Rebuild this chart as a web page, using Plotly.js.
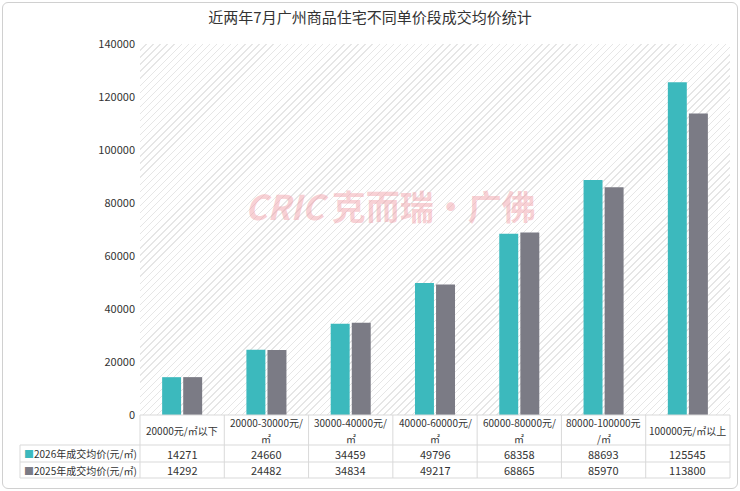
<!DOCTYPE html>
<html><head><meta charset="utf-8">
<script src="https://cdn.plot.ly/plotly-3.0.1.min.js"></script>
<style>
body{margin:0;background:#fff;}
#wrap{position:relative;width:740px;height:491px;}
#frame{position:absolute;left:2px;top:2px;width:734px;height:485px;border:1px solid #d0d0d0;border-radius:6px;}
#hatch{position:absolute;left:140px;top:44px;width:590px;height:371px;
background:repeating-linear-gradient(135deg,#fff 0 4px,#e6e6e6 4px 5px);}
#chart{position:absolute;left:0;top:0;}
</style></head><body>
<div id="wrap"><div id="frame"></div><div id="hatch"></div><div id="chart"></div></div>
<script>
const categories=["20000元/㎡以下","20000-30000元/<br>㎡","30000-40000元/<br>㎡","40000-60000元/<br>㎡","60000-80000元/<br>㎡","80000-100000元<br>/㎡","100000元/㎡以上"];
const series2026=[14271,24660,34459,49796,68358,88693,125545];
const series2025=[14292,24482,34834,49217,68865,85970,113800];
const seriesNames=["2026年成交均价(元/㎡)","2025年成交均价(元/㎡)"];
const colors=["#3cb9bd","#7b7b85"];
const L=140,R=730,T=44,B=415,W=R-L,H=B-T;
const px=x=>(x-L)/W, py=y=>(B-y)/H;
const cw=W/categories.length;
const font={family:"Noto Sans CJK SC",size:11,color:"#333"};
const hfont={family:"Noto Sans CJK SC",size:10,color:"#333"};
const shapes=[],ann=[];
const line={color:"#d9d9d9",width:1};
function hl(y,x0,x1){shapes.push({type:"line",xref:"paper",yref:"paper",x0:px(x0),x1:px(x1),y0:py(y),y1:py(y),line});}
function vl(x,y0,y1){shapes.push({type:"line",xref:"paper",yref:"paper",x0:px(x),x1:px(x),y0:py(y0),y1:py(y1),line});}
hl(415,L,R);hl(445,20,R);hl(462,20,R);hl(478,20,R);
vl(20,445,478);
for(let k=0;k<=categories.length;k++)vl(L+cw*k,415,478);
categories.forEach((c,i)=>{
  const cx=L+cw*(i+0.5);
  const parts=c.split("<br>");
  if(parts.length===1){
    ann.push({xref:"paper",yref:"paper",x:px(cx),y:py(430),text:parts[0],showarrow:false,font:hfont,xanchor:"center",yanchor:"middle"});
  }else{
    ann.push({xref:"paper",yref:"paper",x:px(cx),y:py(422),text:parts[0],showarrow:false,font:hfont,xanchor:"center",yanchor:"middle"});
    ann.push({xref:"paper",yref:"paper",x:px(cx),y:py(438.5),text:parts[1],showarrow:false,font:hfont,xanchor:"center",yanchor:"middle"});
  }
  ann.push({xref:"paper",yref:"paper",x:px(cx),y:py(453.5),text:String(series2026[i]),showarrow:false,font,xanchor:"center",yanchor:"middle"});
  ann.push({xref:"paper",yref:"paper",x:px(cx),y:py(470),text:String(series2025[i]),showarrow:false,font,xanchor:"center",yanchor:"middle"});
});
[453.5,470].forEach((y,j)=>{
  ann.push({xref:"paper",yref:"paper",x:px(22),y:py(y),text:'<span style="color:'+colors[j]+'">■</span>'+seriesNames[j],showarrow:false,font:hfont,xanchor:"left",yanchor:"middle"});
});
ann.push({xref:"paper",yref:"paper",x:px(390),y:py(205),text:"<b><i>CRIC</i> 克而瑞·广佛</b>",showarrow:false,font:{family:"Noto Sans CJK SC",size:34,color:"rgba(240,150,160,0.45)"}});
const xs=categories.map((c,i)=>i);
Plotly.newPlot("chart",[
 {type:"bar",x:xs,y:series2026,name:seriesNames[0],marker:{color:colors[0]}},
 {type:"bar",x:xs,y:series2025,name:seriesNames[1],marker:{color:colors[1]}}
],{
 width:740,height:491,margin:{l:L,r:740-R,t:T,b:491-B},
 paper_bgcolor:"rgba(0,0,0,0)",plot_bgcolor:"rgba(0,0,0,0)",
 showlegend:false,barmode:"group",bargap:0.5,bargroupgap:0.1,
 title:{text:"近两年7月广州商品住宅不同单价段成交均价统计",x:0.5,xanchor:"center",y:0.975,font:{family:"Noto Sans CJK SC",size:15,color:"#333"}},
 xaxis:{range:[-0.5,6.5],showticklabels:false,ticks:"",showgrid:false,zeroline:false},
 yaxis:{range:[0,140000],dtick:20000,tickformat:"d",showgrid:false,zeroline:false,tickfont:font,ticks:"",ticklabelstandoff:4},
 shapes,annotations:ann,font
},{staticPlot:true});
</script></body></html>
